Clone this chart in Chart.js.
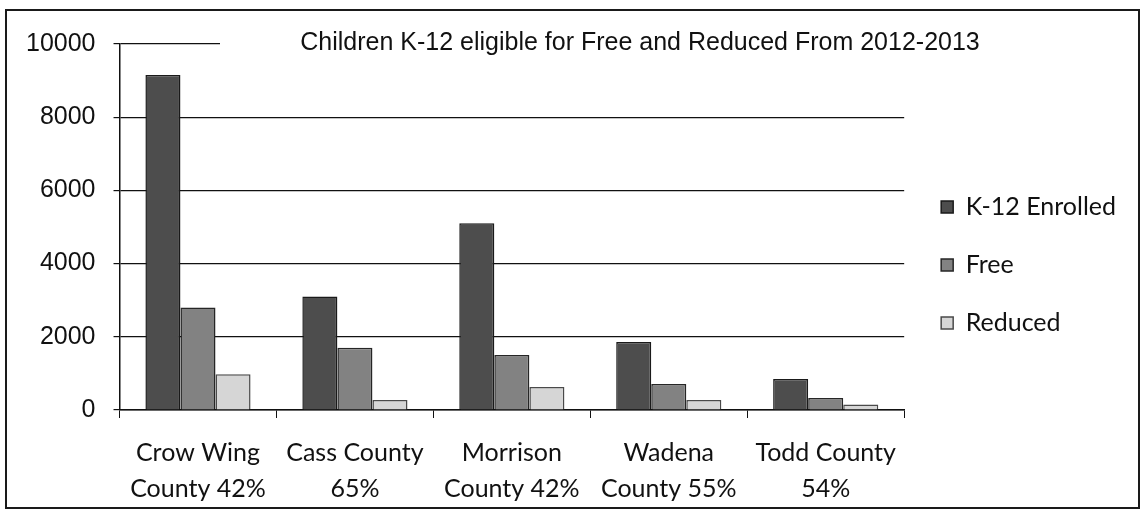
<!DOCTYPE html>
<html>
<head>
<meta charset="utf-8">
<script src="https://cdn.jsdelivr.net/npm/chart.js@4/dist/chart.umd.min.js"></script>
<style>
  body { margin: 0; background: #fff; }
  #frame {
    position: absolute; left: 5px; top: 9px;
    width: 1131px; height: 496px;
    border: 2px solid #1a1a1a;
  }
  #frame canvas { display: block; }
</style>
</head>
<body>
<div id="frame"><canvas id="grafico" width="1131" height="496"></canvas></div>
<script>
// categorias e séries
const condados = [
    ['Crow Wing', 'County 42%'],
    ['Cass County', '65%'],
    ['Morrison', 'County 42%'],
    ['Wadena', 'County 55%'],
    ['Todd County', '54%']
];
const matriculados = [9150, 3100, 5100, 1860, 850];
const gratis = [2800, 1700, 1500, 710, 330];
const reduzido = [980, 270, 630, 270, 150];
const tituloGrafico = 'Children K-12 eligible for Free and Reduced From 2012-2013';

// título por cima da linha dos 10000, com fundo branco
const tituloPlugin = {
    id: 'tituloSobreposto',
    afterLayout(chart) {
        // ajusta a posição da legenda
        chart.legend.top -= 12;
        chart.legend.bottom -= 12;
        chart.legend.left += 4;
        chart.legend.right += 4;
    },
    beforeDatasetsDraw(chart) {
        const c = chart.ctx;
        c.save();
        c.fillStyle = '#fff';
        c.fillRect(213, 12, 800, 38);
        c.fillStyle = '#111';
        c.font = '25px "Liberation Sans", Arial, sans-serif';
        c.textAlign = 'center';
        c.textBaseline = 'middle';
        c.fillText(tituloGrafico, 633, 32);
        c.restore();
    }
};

const ctx = document.getElementById('grafico').getContext('2d');
new Chart(ctx, {
    type: 'bar',
    data: {
        labels: condados,
        datasets: [
            { label: 'K-12 Enrolled', data: matriculados, backgroundColor: '#4d4d4d', borderColor: '#1a1a1a', borderWidth: 1.5 },
            { label: 'Free', data: gratis, backgroundColor: '#828282', borderColor: '#262626', borderWidth: 1.5 },
            { label: 'Reduced', data: reduzido, backgroundColor: '#d6d6d6', borderColor: '#4a4a4a', borderWidth: 1.5 }
        ]
    },
    options: {
        responsive: false,
        animation: false,
        categoryPercentage: 0.67,
        barPercentage: 1.0,
        layout: { padding: { top: 19, right: 16, left: 1, bottom: -17 } },
        plugins: {
            legend: {
                position: 'right',
                labels: {
                    boxWidth: 12,
                    boxHeight: 12,
                    padding: 33,
                    color: '#111',
                    font: { family: 'Lato, "Open Sans", sans-serif', size: 25 }
                }
            },
            tooltip: { enabled: false }
        },
        scales: {
            x: {
                grid: { drawOnChartArea: false, drawTicks: true, tickLength: 8, color: '#111' },
                border: { color: '#111', width: 1.5 },
                ticks: {
                    color: '#111',
                    padding: 17,
                    maxRotation: 0,
                    font: { family: 'Lato, "Open Sans", sans-serif', size: 25, lineHeight: 1.44 }
                }
            },
            y: {
                min: 0,
                max: 10000,
                ticks: {
                    stepSize: 2000,
                    color: '#111',
                    padding: 18,
                    font: { family: '"Liberation Sans", Arial, sans-serif', size: 25 },
                    callback: v => String(v)
                },
                grid: { color: '#111', lineWidth: 1.2, tickLength: 6 },
                border: { color: '#111', width: 1.5 }
            }
        }
    },
    plugins: [tituloPlugin]
});
</script>
</body>
</html>
